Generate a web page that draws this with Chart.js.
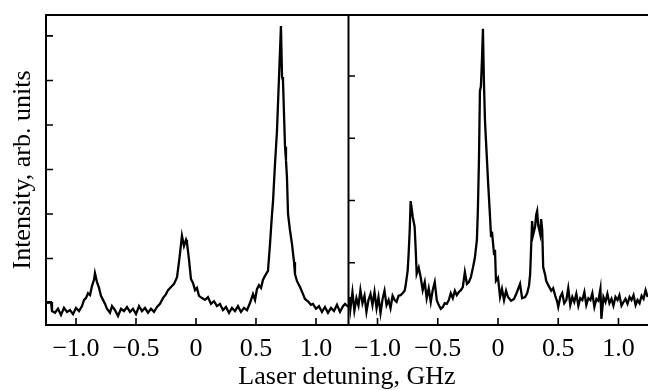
<!DOCTYPE html>
<html>
<head>
<meta charset="utf-8">
<script src="https://cdn.jsdelivr.net/npm/chart.js@4.4.1/dist/chart.umd.min.js"></script>
<style>
  html, body { margin: 0; padding: 0; background: #fff; }
  #wrap { position: relative; width: 648px; height: 390px; overflow: hidden; }
  #leftBox { position: absolute; left: 0; top: 0; width: 350px; height: 390px; }
  #rightBox { position: absolute; left: 348px; top: 0; width: 300px; height: 390px; }
  #xTitle {
    position: absolute; top: 363px; left: 347px; transform: translateX(-50%);
    font: 26px/26px "Liberation Serif", serif; color: #000; white-space: nowrap;
  }
</style>
</head>
<body>
<div id="wrap">
  <div id="leftBox"><canvas id="leftChart"></canvas></div>
  <div id="rightBox"><canvas id="rightChart"></canvas></div>
  <div id="xTitle">Laser detuning, GHz</div>
</div>
<script>
// x tick values + labels (same for both panels)
const xTickValues = [-1.0, -0.5, 0, 0.5, 1.0];
const xTickLabels = ['\u22121.0', '\u22120.5', '0', '0.5', '1.0'];

// y ticks have no labels, only inner marks
const leftYTicks = [0, 1, 2, 3, 4, 5, 6];
const rightYTicks = [1, 2, 3, 4];

// left spectrum
const leftDetuning = [
  -1.25, -1.208, -1.2, -1.175, -1.15, -1.125, -1.1, -1.075, -1.05, -1.025,
  -1.0, -0.975, -0.95, -0.933, -0.917, -0.9, -0.883, -0.867, -0.85, -0.842,
  -0.825, -0.808, -0.792, -0.775, -0.758, -0.742, -0.717, -0.7, -0.675, -0.65,
  -0.625, -0.6, -0.575, -0.55, -0.525, -0.5, -0.475, -0.45, -0.425, -0.4,
  -0.375, -0.35, -0.325, -0.3, -0.275, -0.25, -0.233, -0.208, -0.183, -0.158,
  -0.142, -0.133, -0.117, -0.1, -0.083, -0.075, -0.058, -0.042, -0.025, -0.008,
  0.008, 0.025, 0.05, 0.075, 0.1, 0.125, 0.15, 0.175, 0.2, 0.225,
  0.25, 0.275, 0.3, 0.325, 0.35, 0.375, 0.4, 0.425, 0.45, 0.475,
  0.492, 0.508, 0.525, 0.542, 0.558, 0.575, 0.6, 0.608, 0.617, 0.633,
  0.642, 0.658, 0.675, 0.708, 0.717, 0.725, 0.742, 0.75, 0.758, 0.767,
  0.783, 0.8, 0.817, 0.825, 0.842, 0.867, 0.892, 0.908, 0.933, 0.958,
  0.975, 1.0, 1.025, 1.05, 1.075, 1.1, 1.125, 1.15, 1.175, 1.2,
  1.225, 1.242, 1.271
];
const leftIntensity = [
  0.02, 0.02, -0.18, -0.22, -0.13, -0.27, -0.11, -0.20, -0.16, -0.25,
  -0.11, -0.18, -0.07, 0.07, 0.11, 0.22, 0.18, 0.38, 0.52, 0.67,
  0.47, 0.34, 0.16, 0.07, -0.02, -0.13, -0.22, -0.07, -0.16, -0.29,
  -0.13, -0.18, -0.09, -0.20, -0.13, -0.25, -0.07, -0.18, -0.11, -0.22,
  -0.13, -0.20, -0.09, -0.02, 0.11, 0.20, 0.29, 0.36, 0.43, 0.58,
  0.92, 1.12, 1.51, 1.28, 1.42, 1.35, 0.97, 0.54, 0.45, 0.29,
  0.34, 0.16, 0.11, 0.07, 0.13, -0.02, 0.04, -0.07, -0.02, -0.16,
  -0.09, -0.22, -0.11, -0.18, -0.07, -0.20, -0.11, -0.16, 0, 0.20,
  0.07, 0.31, 0.40, 0.34, 0.52, 0.61, 0.72, 1.01, 1.33, 1.98,
  2.29, 3.10, 3.87, 6.22, 5.08, 4.99, 3.51, 3.21, 2.83, 2.00,
  1.64, 1.33, 0.92, 0.65, 0.49, 0.36, 0.20, 0.09, 0.04, -0.04,
  -0.02, -0.13, -0.07, -0.20, -0.09, -0.22, -0.11, -0.18, -0.04, -0.20,
  -0.07, -0.02, -0.09
];

// right spectrum
const rightDetuning = [
  -1.233, -1.225, -1.208, -1.192, -1.175, -1.158, -1.142, -1.125, -1.108, -1.092,
  -1.075, -1.058, -1.042, -1.025, -1.008, -0.992, -0.975, -0.958, -0.942, -0.925,
  -0.908, -0.892, -0.875, -0.858, -0.842, -0.825, -0.808, -0.792, -0.775, -0.767,
  -0.75, -0.742, -0.733, -0.725, -0.717, -0.708, -0.7, -0.692, -0.683, -0.675,
  -0.658, -0.642, -0.625, -0.608, -0.592, -0.575, -0.558, -0.542, -0.525, -0.508,
  -0.492, -0.475, -0.458, -0.442, -0.425, -0.408, -0.392, -0.375, -0.358, -0.342,
  -0.325, -0.308, -0.292, -0.275, -0.258, -0.242, -0.225, -0.208, -0.192, -0.175,
  -0.167, -0.158, -0.15, -0.142, -0.133, -0.125, -0.117, -0.108, -0.1, -0.083,
  -0.067, -0.058, -0.05, -0.033, -0.025, -0.017, 0, 0.017, 0.033, 0.05,
  0.067, 0.083, 0.108, 0.133, 0.158, 0.183, 0.2, 0.225, 0.242, 0.258,
  0.267, 0.283, 0.292, 0.308, 0.317, 0.325, 0.333, 0.35, 0.358, 0.367,
  0.375, 0.392, 0.4, 0.417, 0.442, 0.458, 0.475, 0.492, 0.5, 0.517,
  0.533, 0.55, 0.567, 0.583, 0.6, 0.617, 0.633, 0.65, 0.667, 0.683,
  0.7, 0.717, 0.733, 0.75, 0.767, 0.783, 0.8, 0.817, 0.833, 0.85,
  0.858, 0.875, 0.892, 0.908, 0.925, 0.942, 0.958, 0.975, 0.992, 1.008,
  1.025, 1.042, 1.058, 1.075, 1.092, 1.108, 1.125, 1.142, 1.158, 1.175,
  1.192, 1.208, 1.225, 1.242
];
const rightIntensity = [
  0.45, 0.26, 0.53, 0.23, 0.43, 0.31, 0.56, 0.35, 0.47, 0.21,
  0.40, 0.50, 0.32, 0.53, 0.27, 0.45, 0.19, 0.42, 0.55, 0.32,
  0.40, 0.27, 0.47, 0.40, 0.37, 0.47, 0.48, 0.51, 0.55, 0.63,
  0.87, 1.13, 1.51, 1.99, 1.88, 1.74, 1.66, 1.58, 1.21, 0.82,
  0.92, 0.77, 0.56, 0.69, 0.43, 0.59, 0.37, 0.56, 0.69, 0.40,
  0.32, 0.26, 0.29, 0.35, 0.34, 0.40, 0.51, 0.43, 0.55, 0.48,
  0.53, 0.56, 0.61, 0.85, 0.66, 0.69, 0.77, 0.92, 1.08, 1.37,
  1.85, 2.65, 3.76, 3.83, 4.26, 4.76, 3.92, 3.28, 2.97, 2.32,
  1.77, 1.43, 1.50, 1.14, 1.21, 0.71, 0.76, 0.45, 0.58, 0.40,
  0.55, 0.45, 0.39, 0.42, 0.53, 0.66, 0.43, 0.45, 0.51, 0.64,
  0.82, 1.67, 1.45, 1.58, 1.77, 1.83, 1.61, 1.46, 1.70, 1.53,
  0.93, 0.80, 0.71, 0.64, 0.55, 0.59, 0.47, 0.37, 0.29, 0.45,
  0.51, 0.35, 0.40, 0.59, 0.32, 0.45, 0.37, 0.50, 0.31, 0.43,
  0.40, 0.53, 0.32, 0.43, 0.40, 0.51, 0.29, 0.42, 0.39, 0.58,
  0.10, 0.45, 0.37, 0.50, 0.35, 0.42, 0.31, 0.45, 0.40, 0.48,
  0.31, 0.37, 0.42, 0.34, 0.45, 0.40, 0.48, 0.32, 0.40, 0.35,
  0.47, 0.42, 0.56, 0.45
];

const serif = 'Liberation Serif';

// frame lines + inward tick marks
const framePlugin = {
  id: 'frame',
  afterDraw(chart, args, opts) {
    const { ctx, chartArea: a, scales } = chart;
    ctx.save();
    ctx.strokeStyle = '#000';
    ctx.lineWidth = 2;
    ctx.lineCap = 'square';
    ctx.beginPath();
    ctx.moveTo(a.left, a.top); ctx.lineTo(a.right, a.top);
    ctx.moveTo(a.left, a.bottom); ctx.lineTo(a.right, a.bottom);
    if (opts.left) { ctx.moveTo(a.left, a.top); ctx.lineTo(a.left, a.bottom); }
    if (opts.right) { ctx.moveTo(a.right, a.top); ctx.lineTo(a.right, a.bottom); }
    ctx.stroke();

    ctx.lineWidth = 1.6;
    ctx.lineCap = 'butt';
    ctx.beginPath();
    scales.x.ticks.forEach(t => {
      const px = scales.x.getPixelForValue(t.value);
      ctx.moveTo(px, a.bottom); ctx.lineTo(px, a.bottom - 7);
    });
    scales.y.ticks.forEach(t => {
      const py = scales.y.getPixelForValue(t.value);
      ctx.moveTo(a.left, py); ctx.lineTo(a.left + 7, py);
    });
    ctx.stroke();
    ctx.restore();
  }
};

function makePanel(canvasId, xs, ys, opt) {
  const points = xs.map((x, i) => ({ x: x, y: ys[i] }));
  return new Chart(document.getElementById(canvasId), {
    type: 'line',
    data: {
      datasets: [{
        data: points,
        borderColor: '#000',
        borderWidth: 2.3,
        pointRadius: 0,
        tension: 0,
        fill: false
      }]
    },
    options: {
      responsive: true,
      maintainAspectRatio: false,
      animation: false,
      layout: { padding: opt.padding },
      plugins: {
        legend: { display: false },
        tooltip: { enabled: false },
        frame: { left: opt.frameLeft, right: opt.frameRight }
      },
      scales: {
        x: {
          type: 'linear',
          min: opt.xMin,
          max: opt.xMax,
          grid: { display: false },
          border: { display: false },
          afterBuildTicks: s => { s.ticks = xTickValues.map(v => ({ value: v })); },
          afterFit: s => { s.height = 65; },
          ticks: {
            autoSkip: false,
            maxRotation: 0,
            padding: 1,
            color: '#000',
            font: { family: serif, size: 26 },
            callback: v => xTickLabels[xTickValues.indexOf(v)]
          }
        },
        y: {
          type: 'linear',
          min: opt.yMin,
          max: opt.yMax,
          grid: { display: false },
          border: { display: false },
          afterBuildTicks: s => { s.ticks = opt.yTicks.map(v => ({ value: v })); },
          afterFit: s => { s.width = opt.yWidth; },
          ticks: { display: false },
          title: {
            display: opt.yTitle !== '',
            text: opt.yTitle,
            color: '#000',
            font: { family: serif, size: 26 },
            padding: { top: 8, bottom: 0 }
          }
        }
      }
    },
    plugins: [framePlugin]
  });
}

makePanel('leftChart', leftDetuning, leftIntensity, {
  xMin: -1.25, xMax: 1.271,
  yMin: -0.494, yMax: 6.47,
  yTicks: leftYTicks,
  yWidth: 46,
  yTitle: 'Intensity, arb. units',
  padding: { top: 15, right: 1.5, left: 0, bottom: 0 },
  frameLeft: true, frameRight: true
});

makePanel('rightChart', rightDetuning, rightIntensity, {
  xMin: -1.245, xMax: 1.245,
  yMin: 0, yMax: 4.98,
  yTicks: rightYTicks,
  yWidth: 0,
  yTitle: '',
  padding: { top: 15, right: 0, left: 0, bottom: 0 },
  frameLeft: false, frameRight: false
});
</script>
</body>
</html>
